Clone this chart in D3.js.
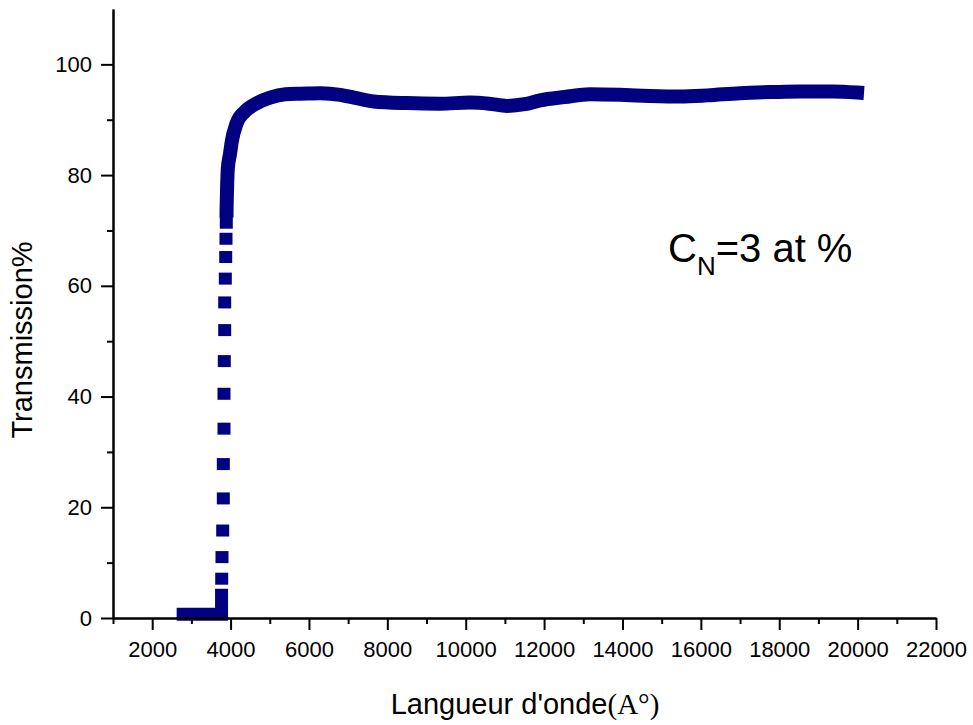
<!DOCTYPE html>
<html>
<head>
<meta charset="utf-8">
<script src="https://cdn.jsdelivr.net/npm/d3@7"></script>
<style>
  body { margin: 0; background: #fff; }
  svg text { font-family: "Liberation Sans", Arial, sans-serif; fill: #000; }
</style>
</head>
<body>
<div id="container"></div>
<script>
// Transmission spectrum, values
// wavelength in Angstrom, transmission in %

// flat part below the absorption edge
const baseWl = [2790, 3770, 3770];
const baseT = [0.7, 0.7, 4.1];

// isolated samples on the steep edge
const edgeWl = [3774, 3781, 3799, 3815, 3815, 3832, 3832, 3840, 3850, 3850, 3866, 3876, 3883, 3891];
const edgeT = [7.1, 11.0, 15.8, 21.6, 27.8, 34.2, 40.5, 46.4, 52.0, 57.0, 61.3, 65.2, 68.5, 71.4];

// dense part: knee and plateau
const plateauWl = [3897, 3912, 3929, 3985, 4029, 4151, 4368, 4674, 5006, 5400, 5800, 6300, 6800, 7150,
    7650, 8500, 9350, 10100, 10600, 11050, 11500, 11900, 12530, 13170, 13940, 14700, 15470, 16160,
    17000, 17840, 18530, 19370, 19985];
const plateauT = [73.6, 78.0, 81.1, 83.8, 86.0, 89.3, 91.5, 93.0, 94.0, 94.6, 94.7, 94.8, 94.5, 94.0,
    93.3, 93.0, 92.9, 93.1, 92.9, 92.5, 92.8, 93.5, 94.1, 94.6, 94.5, 94.3, 94.2, 94.4,
    94.8, 95.0, 95.1, 95.1, 94.9];

// ticks
const xMajor = [2000, 4000, 6000, 8000, 10000, 12000, 14000, 16000, 18000, 20000, 22000];
const xMinor = [1000, 3000, 5000, 7000, 9000, 11000, 13000, 15000, 17000, 19000, 21000];
const yMajor = [0, 20, 40, 60, 80, 100];
const yMinor = [10, 30, 50, 70, 90];

const width = 973;
const height = 725;
const color = '#000080';

const svg = d3.select('#container').append('svg')
    .attr('width', width)
    .attr('height', height);

// scales
const xScale = d3.scaleLinear().domain([1000, 22000]).range([113, 936]);
const yScale = d3.scaleLinear().domain([0, 110]).range([618, 9]);

const toPts = (wl, t) => wl.map((w, i) => [w, t[i]]);

// dense parts drawn as thick band (overlapping square markers)
const bandLine = d3.line()
    .x(d => xScale(d[0]))
    .y(d => yScale(d[1]));

svg.append('path')
    .datum(toPts(baseWl, baseT))
    .attr('d', bandLine)
    .attr('fill', 'none')
    .attr('stroke', color)
    .attr('stroke-width', 13)
    .attr('stroke-linejoin', 'miter')
    .attr('stroke-linecap', 'square');

svg.append('path')
    .datum(toPts(plateauWl, plateauT))
    .attr('d', bandLine.curve(d3.curveMonotoneX))
    .attr('fill', 'none')
    .attr('stroke', color)
    .attr('stroke-width', 14)
    .attr('stroke-linejoin', 'round')
    .attr('stroke-linecap', 'square');

// square markers on the edge
svg.selectAll('rect.edge')
    .data(toPts(edgeWl, edgeT))
    .enter()
    .append('rect')
    .attr('class', 'edge')
    .attr('x', d => xScale(d[0]) - 6.5)
    .attr('y', d => yScale(d[1]) - 6)
    .attr('width', 13)
    .attr('height', 12)
    .attr('fill', color);

// Y axis
svg.append('g')
    .attr('transform', 'translate(113,0)')
    .call(d3.axisLeft(yScale).tickValues(yMajor).tickSize(12).tickSizeOuter(0).tickPadding(9));
svg.append('g')
    .attr('transform', 'translate(113,0)')
    .call(d3.axisLeft(yScale).tickValues(yMinor).tickSize(6).tickSizeOuter(0).tickFormat(''));

// X axis
svg.append('g')
    .attr('transform', 'translate(0,618)')
    .call(d3.axisBottom(xScale).tickValues(xMajor).tickSize(12).tickSizeOuter(0).tickPadding(11)
        .tickFormat(d3.format('d')));
svg.append('g')
    .attr('transform', 'translate(0,618)')
    .call(d3.axisBottom(xScale).tickValues(xMinor).tickSize(6).tickSizeOuter(0).tickFormat(''));

svg.selectAll('.domain').attr('stroke', '#000').attr('stroke-width', 2);
svg.selectAll('.tick line').attr('stroke', '#000').attr('stroke-width', 2);
svg.selectAll('.tick text')
    .style('font-family', '"Liberation Sans", Arial, sans-serif')
    .style('font-size', '22px')
    .attr('fill', '#000');

// axis titles
svg.append('text')
    .attr('transform', 'translate(32,340) rotate(-90)')
    .attr('text-anchor', 'middle')
    .style('font-size', '29px')
    .text('Transmission%');

const xTitle = svg.append('text')
    .attr('x', 525)
    .attr('y', 714)
    .attr('text-anchor', 'middle')
    .style('font-size', '29px');
xTitle.append('tspan').text("Langueur d'onde");
xTitle.append('tspan')
    .style('font-family', '"Liberation Serif", "Times New Roman", serif')
    .text('(A°)');

// annotation
const note = svg.append('text')
    .attr('x', 668)
    .attr('y', 262)
    .style('font-size', '40px');
note.append('tspan').text('C');
note.append('tspan').attr('dy', 13).style('font-size', '26px').text('N');
note.append('tspan').attr('dy', -13).text('=3 at %');
</script>
</body>
</html>
